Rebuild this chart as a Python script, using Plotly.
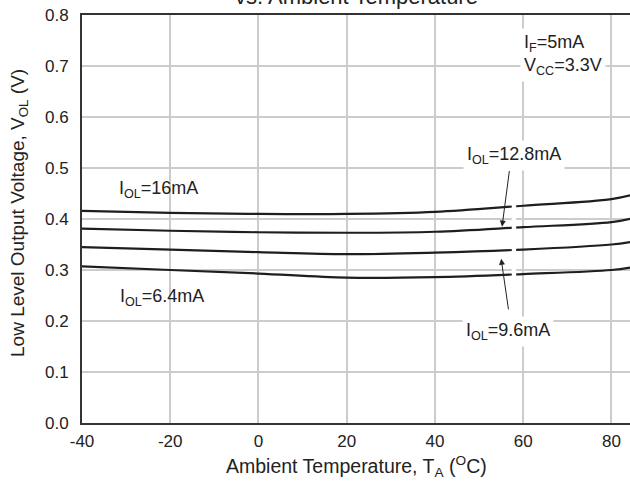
import plotly.graph_objects as go

# Data
temperature = [-40, -20, 0, 20, 40, 60, 80, 85]
vol_16mA = [0.416, 0.412, 0.410, 0.410, 0.414, 0.426, 0.439, 0.448]
vol_12_8mA = [0.381, 0.377, 0.374, 0.373, 0.375, 0.384, 0.394, 0.402]
vol_9_6mA = [0.345, 0.340, 0.335, 0.331, 0.334, 0.340, 0.350, 0.356]
vol_6_4mA = [0.307, 0.300, 0.293, 0.285, 0.286, 0.292, 0.300, 0.306]

series = [
    ("I<sub>OL</sub>=16mA", vol_16mA),
    ("I<sub>OL</sub>=12.8mA", vol_12_8mA),
    ("I<sub>OL</sub>=9.6mA", vol_9_6mA),
    ("I<sub>OL</sub>=6.4mA", vol_6_4mA),
]

x_ticks = [-40, -20, 0, 20, 40, 60, 80]
y_ticks = [0.0, 0.1, 0.2, 0.3, 0.4, 0.5, 0.6, 0.7, 0.8]
y_tick_labels = ["0.0", "0.1", "0.2", "0.3", "0.4", "0.5", "0.6", "0.7", "0.8"]

FONT = "Liberation Sans, Arial, sans-serif"
TXT = "#222222"

fig = go.Figure()
for name, vals in series:
    fig.add_trace(go.Scatter(
        x=temperature, y=vals, mode="lines", name=name,
        line=dict(color="#1e1e1e", width=2.2, shape="spline", smoothing=1.0),
        showlegend=False, hoverinfo="skip",
    ))

ann = []
lab_font = dict(family=FONT, size=18, color=TXT)
ann.append(dict(x=-32.0, y=0.4586, xref="x", yref="y", text="I<sub>OL</sub>=16mA",
                showarrow=False, xanchor="left", yanchor="middle", font=lab_font))
ann.append(dict(x=-31.9, y=0.247, xref="x", yref="y", text="I<sub>OL</sub>=6.4mA",
                showarrow=False, xanchor="left", yanchor="middle", font=lab_font))
ann.append(dict(x=58.0, y=0.525, xref="x", yref="y", text="I<sub>OL</sub>=12.8mA",
                showarrow=False, xanchor="center", yanchor="middle", font=lab_font,
                bgcolor="white", borderpad=3))
ann.append(dict(x=56.6, y=0.1786, xref="x", yref="y", text="I<sub>OL</sub>=9.6mA",
                showarrow=False, xanchor="center", yanchor="middle", font=lab_font,
                bgcolor="white", borderpad=3))
ann.append(dict(x=59.2, y=0.7224, xref="x", yref="y",
                text="I<sub>F</sub>=5mA<br>V<sub>CC</sub>=3.3V",
                showarrow=False, xanchor="left", yanchor="middle", align="left",
                font=lab_font, bgcolor="white", borderpad=3))
# arrows
ann.append(dict(x=55.2, y=0.385, ax=56.9, ay=0.497, xref="x", yref="y",
                axref="x", ayref="y", text="", showarrow=True,
                arrowhead=2, arrowsize=1.2, arrowwidth=1, arrowcolor="#222"))
ann.append(dict(x=55.0, y=0.322, ax=56.7, ay=0.220, xref="x", yref="y",
                axref="x", ayref="y", text="", showarrow=True,
                arrowhead=2, arrowsize=1.2, arrowwidth=1, arrowcolor="#222"))
# title (cut off at top)
ann.append(dict(x=0.5, y=1, xref="paper", yref="paper", text="vs. Ambient Temperature",
                showarrow=False, xanchor="center", yanchor="bottom", yshift=4,
                font=dict(family=FONT, size=22, color=TXT)))
# axis titles
ann.append(dict(x=0.5, y=0, xref="paper", yref="paper",
                text="Ambient Temperature, T<sub>A</sub> (<sup>O</sup>C)",
                showarrow=False, xanchor="center", yanchor="middle", yshift=-43,
                font=dict(family=FONT, size=19.5, color=TXT)))
ann.append(dict(x=0, y=0.5, xref="paper", yref="paper",
                text="Low Level Output Voltage, V<sub>OL</sub> (V)",
                showarrow=False, xanchor="center", yanchor="middle", xshift=-63, yshift=6,
                textangle=-90, font=dict(family=FONT, size=19, color=TXT)))

fig.update_layout(
    width=630, height=489,
    margin=dict(l=81.5, r=0, t=15, b=66.3),
    paper_bgcolor="white", plot_bgcolor="white",
    annotations=ann,
    shapes=[dict(type="rect", xref="x", yref="y", x0=57.4, x1=58.4, y0=0.28, y1=0.46,
                 fillcolor="white", line=dict(width=0), layer="above")],
)
fig.update_xaxes(
    range=[-40, 84.2], tickvals=x_ticks, ticktext=[str(v) for v in x_ticks],
    showgrid=True, gridcolor="#cccccc", gridwidth=1.5,
    showline=True, linecolor="#333333", linewidth=2, mirror=True,
    ticks="", ticklabelstandoff=2,
    tickfont=dict(family=FONT, size=17, color=TXT), zeroline=False,
)
fig.update_yaxes(
    range=[0, 0.8], tickvals=y_ticks, ticktext=y_tick_labels,
    showgrid=True, gridcolor="#cccccc", gridwidth=1.5,
    showline=True, linecolor="#333333", linewidth=2,
    ticks="", ticklabelstandoff=8,
    tickfont=dict(family=FONT, size=17, color=TXT), zeroline=False,
)

fig.write_html("out.html")
